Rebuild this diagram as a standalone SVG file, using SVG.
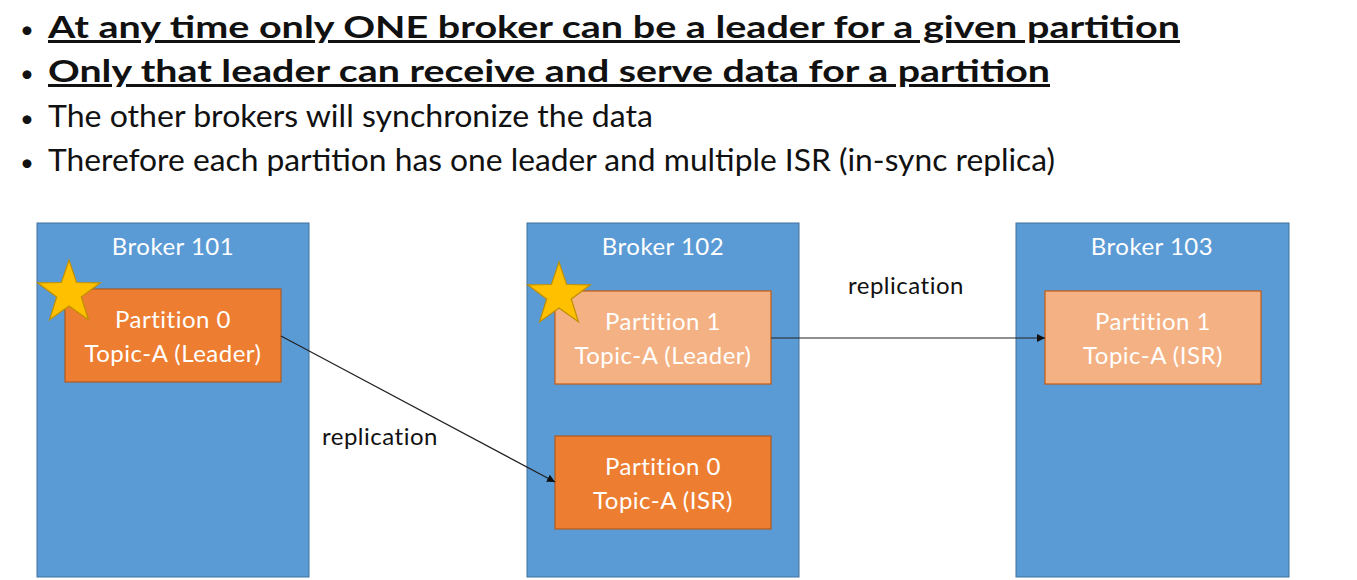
<svg xmlns="http://www.w3.org/2000/svg" width="1357" height="580" viewBox="0 0 1357 580">
<defs>
<style>
.bul{font-family:Lato,"Open Sans",sans-serif;font-size:30px;fill:#111}
.dot{font-family:Lato,"Open Sans",sans-serif;font-size:24px;fill:#111}
.b{font-weight:bold;text-decoration:underline}
.broker{fill:#5B9BD5;stroke:#41719C;stroke-width:1}
.title{font-family:Lato,"Open Sans",sans-serif;font-size:24px;letter-spacing:0.5px;fill:#fff;text-anchor:middle}
.pdark{fill:#ED7D31;stroke:#AE5A21;stroke-width:1.2}
.plight{fill:#F4B183;stroke:#C55A11;stroke-width:1.2}
.ptxt{font-family:Lato,"Open Sans",sans-serif;font-size:24px;letter-spacing:0.5px;fill:#fff;text-anchor:middle}
.star{fill:#FFC000;stroke:#BF9000;stroke-width:1.2}
.conn{stroke:#222;stroke-width:1.2;fill:none;marker-end:url(#arr)}
.lbl{font-family:Lato,"Open Sans",sans-serif;font-size:24px;letter-spacing:0.5px;fill:#111}
</style>
<marker id="arr" viewBox="0 0 10 10" refX="10" refY="5" markerWidth="8" markerHeight="8" markerUnits="userSpaceOnUse" orient="auto">
<path d="M0,0 L10,5 L0,10 z" fill="#111"/>
</marker>
</defs>
<rect width="1357" height="580" fill="#fff"/>
<g id="bullets">
<text class="dot" x="20" y="38">•</text>
<text class="bul b" x="48" y="38" textLength="1132" lengthAdjust="spacingAndGlyphs">At any time only ONE broker can be a leader for a given partition</text>
<text class="dot" x="20" y="82">•</text>
<text class="bul b" x="48" y="82" textLength="1002" lengthAdjust="spacingAndGlyphs">Only that leader can receive and serve data for a partition</text>
<text class="dot" x="20" y="127">•</text>
<text class="bul" x="48" y="127" textLength="605" lengthAdjust="spacingAndGlyphs">The other brokers will synchronize the data</text>
<text class="dot" x="20" y="171">•</text>
<text class="bul" x="48" y="171" textLength="1007" lengthAdjust="spacingAndGlyphs">Therefore each partition has one leader and multiple ISR (in-sync replica)</text>
</g>
<g id="broker101">
<rect class="broker" x="37" y="223" width="272" height="354"/>
<text class="title" x="173" y="255">Broker 101</text>
</g>
<g id="broker102">
<rect class="broker" x="527" y="223" width="272" height="354"/>
<text class="title" x="663" y="255">Broker 102</text>
</g>
<g id="broker103">
<rect class="broker" x="1016" y="223" width="273" height="354"/>
<text class="title" x="1152" y="255">Broker 103</text>
</g>
<g id="p0-leader">
<rect class="pdark" x="65" y="289" width="216" height="93"/>
<text class="ptxt" x="173" y="328">Partition 0</text>
<text class="ptxt" x="173" y="362">Topic-A (Leader)</text>
</g>
<g id="p1-leader">
<rect class="plight" x="555" y="291" width="216" height="93"/>
<text class="ptxt" x="663" y="330">Partition 1</text>
<text class="ptxt" x="663" y="364">Topic-A (Leader)</text>
</g>
<g id="p0-isr">
<rect class="pdark" x="555" y="436" width="216" height="93"/>
<text class="ptxt" x="663" y="475">Partition 0</text>
<text class="ptxt" x="663" y="509">Topic-A (ISR)</text>
</g>
<g id="p1-isr">
<rect class="plight" x="1045" y="291" width="216" height="93"/>
<text class="ptxt" x="1153" y="330">Partition 1</text>
<text class="ptxt" x="1153" y="364">Topic-A (ISR)</text>
</g>
<g id="star101">
<polygon class="star" points="69,260 76.6,282.5 100.4,282.8 81.3,297 88.4,319.7 69,306 49.6,319.7 56.7,297 37.6,282.8 61.4,282.5"/>
</g>
<g id="star102">
<polygon class="star" points="559,262 566.6,284.5 590.4,284.8 571.3,299 578.4,321.7 559,308 539.6,321.7 546.7,299 527.6,284.8 551.4,284.5"/>
</g>
<g id="connectors">
<line class="conn" x1="281" y1="336" x2="555" y2="482"/>
<line class="conn" x1="771" y1="338" x2="1045" y2="338"/>
<text class="lbl" x="322" y="445">replication</text>
<text class="lbl" x="848" y="294">replication</text>
</g>
</svg>
